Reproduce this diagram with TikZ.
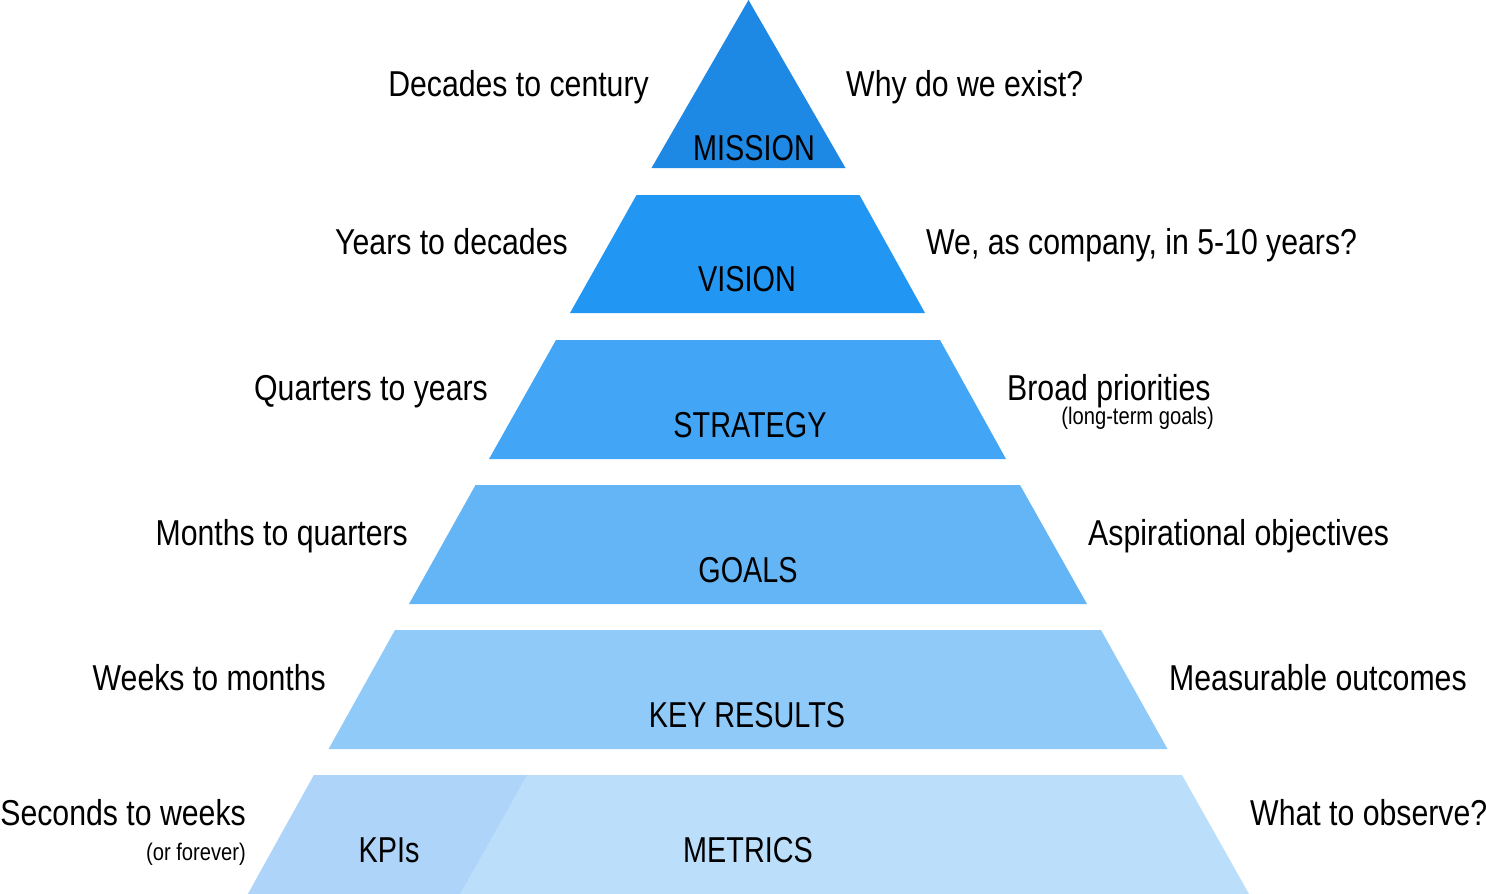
\documentclass[tikz,border=0pt]{standalone}
\usepackage{fontspec}
\setmainfont{Liberation Sans}[FakeStretch=0.8]
\newfontfamily\labfont{Liberation Sans}[FakeStretch=0.84]
\definecolor{cMission}{HTML}{1E88E5}
\definecolor{cVision}{HTML}{2196F3}
\definecolor{cStrategy}{HTML}{42A5F5}
\definecolor{cGoals}{HTML}{64B5F6}
\definecolor{cKR}{HTML}{90CAF9}
\definecolor{cKPI}{HTML}{AED5F9}
\definecolor{cMetrics}{HTML}{BBDEFB}
\tikzset{
  title/.style={anchor=base, inner sep=0pt, font=\fontsize{36}{40}\selectfont},
  lleft/.style={anchor=base east, inner sep=0pt, font=\labfont\fontsize{36}{40}\selectfont},
  lright/.style={anchor=base west, inner sep=0pt, font=\labfont\fontsize{36}{40}\selectfont},
  lsmall/.style={anchor=base east, inner sep=0pt, font=\labfont\fontsize{24}{28}\selectfont},
}
\begin{document}
\begin{tikzpicture}[x=1pt,y=-1pt]
\useasboundingbox (0,0) rectangle (1486,894);
% bands
\fill[cMission] (748.5,0) -- (845.5,168) -- (651.5,168) -- cycle;
\fill[cVision] (636.5,195) -- (859.5,195) -- (925,313) -- (570,313) -- cycle;
\fill[cStrategy] (556,340) -- (940,340) -- (1006,459) -- (489,459) -- cycle;
\fill[cGoals] (475.5,485) -- (1020,485) -- (1087,604) -- (409,604) -- cycle;
\fill[cKR] (395,630) -- (1101,630) -- (1167.5,749) -- (328.6,749) -- cycle;
\fill[cMetrics] (314,775) -- (1182,775) -- (1249,894) -- (248,894) -- cycle;
\fill[cKPI] (314,775) -- (527,775) -- (460,894) -- (248,894) -- cycle;
% titles
\node[title] (mission) at (754,160) {MISSION};
\node[title] (vision) at (747,291) {VISION};
\node[title] (strategy) at (750,437) {STRATEGY};
\node[title] (goals) at (748,582) {GOALS};
\node[title] (kr) at (747,727) {KEY RESULTS};
\node[title] (kpis) at (389,862) {KPIs};
\node[title] (metrics) at (748,862) {METRICS};
% left labels
\node[lleft] (l1) at (649,96) {Decades to century};
\node[lleft] (l2) at (568,254) {Years to decades};
\node[lleft] (l3) at (488,400) {Quarters to years};
\node[lleft] (l4) at (408,545) {Months to quarters};
\node[lleft] (l5) at (326,690) {Weeks to months};
\node[lleft] (l6) at (246,825) {Seconds to weeks};
\node[lsmall] (l6b) at (246,860) {(or forever)};
% right labels
\node[lright] (r1) at (846,96) {Why do we exist?};
\node[lright] (r2) at (926,254) {We, as company, in 5-10 years?};
\node[lright] (r3) at (1007,400) {Broad priorities};
\node[lsmall] (r3b) at (1214,424) {(long-term goals)};
\node[lright] (r4) at (1088,545) {Aspirational objectives};
\node[lright] (r5) at (1169,690) {Measurable outcomes};
\node[lright] (r6) at (1250,825) {What to observe?};
\end{tikzpicture}
\end{document}
